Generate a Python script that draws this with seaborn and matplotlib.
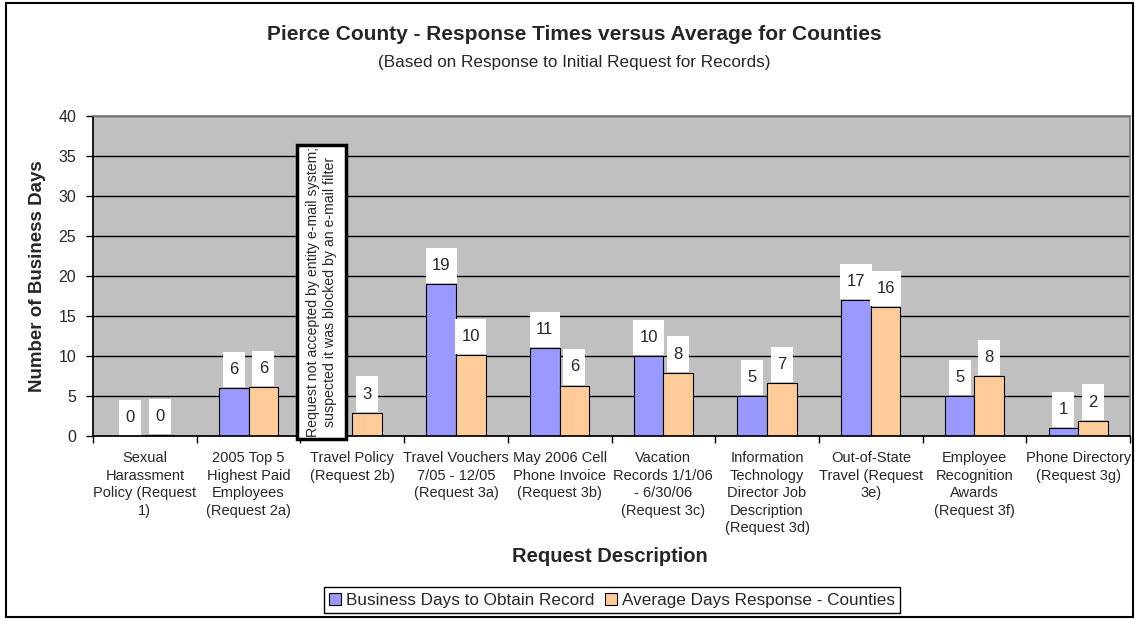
import numpy as np
import pandas as pd
import matplotlib
matplotlib.use("Agg")
import matplotlib.pyplot as plt
from matplotlib.patches import Rectangle
from matplotlib.path import Path
import seaborn as sns

sns.set_theme(style="white")
plt.rcParams["font.family"] = ["Liberation Sans", "DejaVu Sans"]

# data
requests = [
    "Sexual\nHarassment\nPolicy (Request\n1)",
    "2005 Top 5\nHighest Paid\nEmployees\n(Request 2a)",
    "Travel Policy\n(Request 2b)",
    "Travel Vouchers\n7/05 - 12/05\n(Request 3a)",
    "May 2006 Cell\nPhone Invoice\n(Request 3b)",
    "Vacation\nRecords 1/1/06\n- 6/30/06\n(Request 3c)",
    "Information\nTechnology\nDirector Job\nDescription\n(Request 3d)",
    "Out-of-State\nTravel (Request\n3e)",
    "Employee\nRecognition\nAwards\n(Request 3f)",
    "Phone Directory\n(Request 3g)",
]
pierce_days = [0, 6, np.nan, 19, 11, 10, 5, 17, 5, 1]
county_avg = [0.1, 6.1, 2.9, 10.1, 6.3, 7.9, 6.6, 16.1, 7.5, 1.9]
series_names = ["Business Days to Obtain Record", "Average Days Response - Counties"]
colors = ["#9999FF", "#FFCC99"]
note = "Request not accepted by entity e-mail system;\nsuspected it was blocked by an e-mail filter"

df = pd.DataFrame({
    "request": requests * 2,
    "days": pierce_days + county_avg,
    "series": [series_names[0]] * len(requests) + [series_names[1]] * len(requests),
})


def label_box(x0, y0, width, height, mutation_size):
    # Excel-like label box: taller than it is padded sideways
    px = 0.38 * mutation_size
    py = 0.62 * mutation_size
    x0, y0 = x0 - px, y0 - py
    x1, y1 = x0 + width + 2 * px, y0 + height + 2 * py
    return Path([(x0, y0), (x1, y0), (x1, y1), (x0, y1), (x0, y0)], closed=True)


fig = plt.figure(figsize=(11.35, 6.19), dpi=100)
ax = fig.add_axes([93 / 1135, 1 - 436 / 619, 1037 / 1135, 320 / 619])
ax.set_facecolor("#C0C0C0")

sns.barplot(data=df, x="request", y="days", hue="series", order=requests,
            hue_order=series_names, palette=colors, width=0.57,
            edgecolor="black", linewidth=0.8, saturation=1, ax=ax)

# value labels in white boxes
for cont in ax.containers:
    ax.bar_label(cont, fmt="{:.0f}", padding=8, fontsize=12,
                 bbox=dict(boxstyle=label_box, facecolor="white", edgecolor="none"))

ax.set_ylim(0, 40)
ax.set_yticks(range(0, 41, 5))
ax.set_xlim(-0.5, len(requests) - 0.5)
ax.yaxis.grid(True, color="black", linewidth=1)
ax.set_axisbelow(True)
ax.tick_params(axis="y", which="both", left=True, length=5, width=1, color="black",
               labelsize=11.5, pad=7)
ax.tick_params(axis="x", which="major", length=0, labelsize=10.5, pad=11)
ax.set_xticks(np.arange(-0.5, len(requests)), minor=True)
ax.tick_params(axis="x", which="minor", bottom=True, length=5, width=1, color="black")
for lbl in ax.get_xticklabels():
    lbl.set_linespacing(1.32)
    lbl.set_verticalalignment("top")

for side in ["top", "right"]:
    ax.spines[side].set_color("#808080")
for side in ["left", "bottom"]:
    ax.spines[side].set_color("black")

ax.set_xlabel("")
ax.set_ylabel("Number of Business Days", fontsize=13.5, fontweight="bold", labelpad=9)
fig.text(610 / 1135, 1 - 557 / 619, "Request Description", ha="center", va="center",
         fontsize=14.5, fontweight="bold")

# note box over the missing bar
ax.add_patch(Rectangle((2 - 0.533, -0.375), 0.473, 36.8, facecolor="white",
                       edgecolor="black", linewidth=2.5, clip_on=False, zorder=5))
ax.text(2 - 0.296, 18.0, note, rotation=90, ha="center", va="center",
        fontsize=10.2, linespacing=1.3, zorder=6)

fig.text(574 / 1135, 1 - 35 / 619, "Pierce County - Response Times versus Average for Counties",
         ha="center", va="center", fontsize=15, fontweight="bold")
fig.text(574 / 1135, 1 - 62 / 619, "(Based on Response to Initial Request for Records)",
         ha="center", va="center", fontsize=12.3)

handles, labels = ax.get_legend_handles_labels()
if ax.legend_:
    ax.legend_.remove()
fig.legend(handles, labels, loc="center", bbox_to_anchor=(612 / 1135, 1 - 600 / 619),
           ncol=2, fontsize=12.3, frameon=True, fancybox=False, edgecolor="black",
           framealpha=1, handlelength=0.7, handleheight=0.7, handletextpad=0.3,
           columnspacing=0.6, borderpad=0.3, borderaxespad=0)

fig.patches.append(Rectangle((6 / 1135, 2 / 619), 1127 / 1135, 614 / 619,
                             transform=fig.transFigure, fill=False,
                             edgecolor="black", linewidth=1.5))

fig.savefig("out.png", dpi=100)
